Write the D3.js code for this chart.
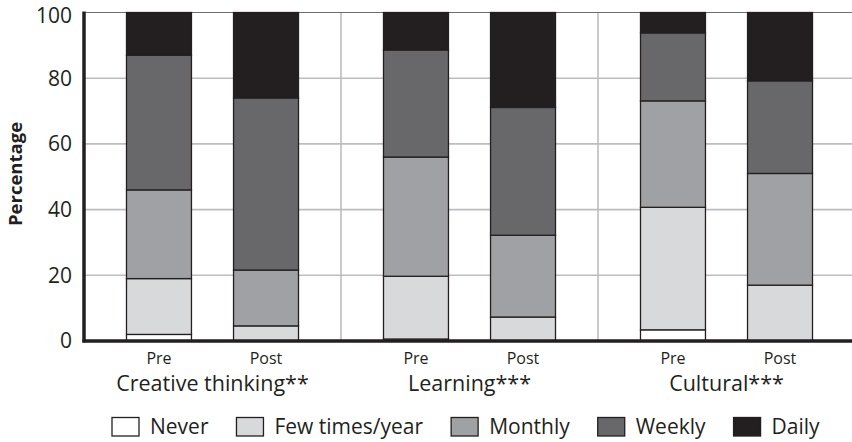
<!DOCTYPE html>
<html><head><meta charset="utf-8">
<script src="https://cdn.jsdelivr.net/npm/d3@7"></script>
<style>body{margin:0;background:#fff}svg{display:block}text{font-family:"Open Sans",sans-serif;fill:#231f20}</style>
</head><body><svg id="c" width="852" height="442"></svg>
<script>
const groups = ["Creative thinking**", "Learning***", "Cultural***"];
const times = ["Pre", "Post"];
const series = ["Never", "Few times/year", "Monthly", "Weekly", "Daily"];
const colors = ["#ffffff", "#d8d9db", "#a0a1a4", "#68686a", "#231f20"];
// values per bar: [Never, Few, Monthly, Weekly, Daily]
const creativePre  = [2, 17, 27, 41, 13];
const creativePost = [0, 4.6, 17, 52.4, 26];
const learningPre  = [0.6, 19.1, 36.3, 32.6, 11.4];
const learningPost = [0, 7.3, 24.9, 38.9, 28.9];
const culturalPre  = [3.4, 37.3, 32.4, 20.7, 6.2];
const culturalPost = [0, 17, 34, 28.2, 20.8];
const yTicks = [0, 20, 40, 60, 80, 100];

const bars = [
  {g: groups[0], t: "Pre", v: creativePre}, {g: groups[0], t: "Post", v: creativePost},
  {g: groups[1], t: "Pre", v: learningPre}, {g: groups[1], t: "Post", v: learningPost},
  {g: groups[2], t: "Pre", v: culturalPre}, {g: groups[2], t: "Post", v: culturalPost}
];

const svg = d3.select("#c");
const pLeft = 84, pRight = 852, pTop = 12.5, pBottom = 341;
const x0 = d3.scaleBand().domain(groups).range([pLeft, pLeft + 3 * 257]);
const x1 = d3.scaleBand().domain(times).range([0, x0.bandwidth()]).paddingInner(0.393).paddingOuter(0.397);
const y = d3.scaleLinear().domain([0, 100]).range([pBottom, pTop]);

// grid
svg.append("g").selectAll("line").data(yTicks.filter(d => d > 0 && d < 100)).join("line")
  .attr("x1", pLeft).attr("x2", pRight).attr("y1", d => y(d)).attr("y2", d => y(d))
  .attr("stroke", "#bcbdc0").attr("stroke-width", 1.6);
svg.append("g").selectAll("line").data(groups.slice(1)).join("line")
  .attr("x1", d => x0(d)).attr("x2", d => x0(d)).attr("y1", y(100)).attr("y2", y(0))
  .attr("stroke", "#bcbdc0").attr("stroke-width", 1.6);
svg.append("line").attr("x1", pLeft).attr("x2", pRight).attr("y1", y(100)).attr("y2", y(100))
  .attr("stroke", "#6d6e71").attr("stroke-width", 1.2);

// bars
const stack = d3.stack().keys(d3.range(series.length)).value((d, k) => d.v[k]);
const layers = stack(bars);
const barG = svg.append("g");
layers.forEach((layer, k) => {
  barG.selectAll(null).data(layer).join("rect")
    .attr("x", d => x0(d.data.g) + x1(d.data.t))
    .attr("width", x1.bandwidth())
    .attr("y", d => y(d[1]))
    .attr("height", d => Math.max(0, y(d[0]) - y(d[1])))
    .attr("fill", colors[k])
    .attr("stroke", "#231f20").attr("stroke-width", d => (d[1] - d[0]) > 0 ? 1.3 : 0);
});

// axes
const yAxis = d3.axisLeft(y).tickValues(yTicks).tickSize(0).tickPadding(12);
const ya = svg.append("g").attr("transform", `translate(${pLeft},0)`).call(yAxis);
ya.select(".domain").remove();
ya.selectAll("text").style("font-size", "21px").style("font-family", '"Open Sans",sans-serif').attr("fill", "#231f20")
  .attr("dy", d => d === 100 ? "0.47em" : "0.33em");
svg.append("line").attr("x1", pLeft).attr("x2", pLeft).attr("y1", pTop - 1).attr("y2", pBottom + 1.5)
  .attr("stroke", "#231f20").attr("stroke-width", 3.5);
svg.append("line").attr("x1", pLeft - 1.5).attr("x2", pRight).attr("y1", pBottom).attr("y2", pBottom)
  .attr("stroke", "#231f20").attr("stroke-width", 3.5);

// x labels
svg.append("g").selectAll("text").data(bars).join("text")
  .attr("x", d => x0(d.g) + x1(d.t) + x1.bandwidth() / 2).attr("y", 364)
  .attr("text-anchor", "middle").style("font-size", "16px").text(d => d.t);
svg.append("g").selectAll("text").data(groups).join("text")
  .attr("x", d => x0(d) + x0.bandwidth() / 2).attr("y", 391)
  .attr("text-anchor", "middle").style("font-size", "21.5px").text(d => d);

svg.append("text").attr("transform", `translate(22,174) rotate(-90)`)
  .attr("text-anchor", "middle").style("font-size", "18.5px").style("font-weight", "bold").text("Percentage");

// legend
const leg = svg.append("g");
let lx = 112;
series.forEach((s, i) => {
  leg.append("rect").attr("x", lx).attr("y", 417.5).attr("width", 27).attr("height", 18.5)
    .attr("fill", colors[i]).attr("stroke", "#231f20").attr("stroke-width", 1.3);
  const t = leg.append("text").attr("x", lx + 38).attr("y", 434).style("font-size", "21px").text(s);
  lx += 38 + t.node().getComputedTextLength() + 28;
});
</script></body></html>
